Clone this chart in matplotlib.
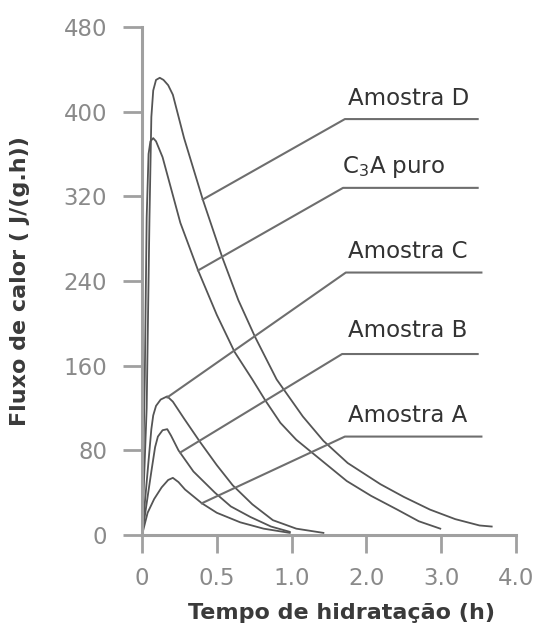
import numpy as np
import matplotlib.pyplot as plt

# eixo x: posicoes igualmente espacadas, rotulos como no grafico original
x_tick_pos = [0, 0.8, 1.6, 2.4, 3.2, 4.0]
x_tick_labels = ['0', '0.5', '1.0', '2.0', '3.0', '4.0']
y_ticks = [0, 80, 160, 240, 320, 400, 480]

# curvas (em coordenadas do eixo)
d_x = [0, 0.05, 0.08, 0.10, 0.12, 0.15, 0.19, 0.23, 0.28, 0.33, 0.45, 0.65, 0.86, 1.03, 1.21,
       1.44, 1.72, 1.94, 2.20, 2.55, 2.80, 3.08, 3.35, 3.61, 3.74]
d_y = [0, 120, 300, 395, 420, 430, 432, 430, 425, 416, 375, 317, 262, 222, 187,
       147, 112, 89, 68, 48, 36, 24, 15, 9, 8]

c3a_x = [0, 0.03, 0.05, 0.07, 0.09, 0.12, 0.15, 0.22, 0.41, 0.60, 0.80, 0.99, 1.18, 1.32,
         1.48, 1.65, 1.83, 2.19, 2.45, 2.73, 2.96, 3.19]
c3a_y = [0, 150, 300, 360, 372, 375, 372, 357, 295, 250, 208, 173, 147, 127,
         106, 90, 77, 51, 37, 24, 13, 6]

c_x = [0, 0.03, 0.07, 0.10, 0.12, 0.15, 0.20, 0.27, 0.33, 0.45, 0.62, 0.80, 0.97, 1.18, 1.40, 1.65, 1.94]
c_y = [0, 30, 70, 100, 113, 122, 128, 131, 126, 110, 88, 66, 47, 29, 14, 6, 2]

b_x = [0, 0.05, 0.10, 0.14, 0.17, 0.22, 0.27, 0.31, 0.39, 0.55, 0.78, 0.95, 1.16, 1.38, 1.58]
b_y = [0, 30, 60, 83, 93, 99, 100, 94, 80, 60, 40, 27, 17, 8, 3]

a_x = [0, 0.06, 0.13, 0.21, 0.28, 0.33, 0.39, 0.46, 0.64, 0.80, 1.05, 1.30, 1.58]
a_y = [0, 21, 34, 45, 52, 54, 50, 43, 30, 21, 12, 6, 2]

# rotulos e linhas de chamada: ponto na curva, cotovelo, fim, posicao do texto
labels = ['Amostra D', r'C$_{\mathregular{3}}$A puro', 'Amostra C', 'Amostra B', 'Amostra A']
lead_start = [(0.65, 317), (0.60, 250), (0.27, 130), (0.41, 78), (0.64, 30)]
lead_elbow = [(2.17, 393), (2.15, 328), (2.18, 248), (2.14, 171), (2.17, 93)]
lead_end_x = [3.59, 3.59, 3.63, 3.59, 3.63]
text_pos = [(2.20, 406), (2.14, 342), (2.20, 262), (2.20, 187), (2.20, 107)]

fig = plt.figure(figsize=(5.38, 6.28), dpi=100)
ax = fig.add_axes([142 / 538, 1 - 535 / 628, 374 / 538, 508 / 628])

curve_col = '#555555'
for xs, ys in [(d_x, d_y), (c3a_x, c3a_y), (c_x, c_y), (b_x, b_y), (a_x, a_y)]:
    ax.plot(xs, ys, color=curve_col, lw=1.3, solid_joinstyle='round')

for lab, s, e, xe, tp in zip(labels, lead_start, lead_elbow, lead_end_x, text_pos):
    ax.plot([s[0], e[0], xe], [s[1], e[1], e[1]], color='#6e6e6e', lw=1.5)
    ax.text(tp[0], tp[1], lab, fontsize=16.5, color='#333333', va='baseline', ha='left')

ax.set_xlim(0, 4.0)
ax.set_ylim(0, 480)
ax.set_xticks(x_tick_pos)
ax.set_xticklabels(x_tick_labels)
ax.set_yticks(y_ticks)

for side in ['top', 'right']:
    ax.spines[side].set_visible(False)
for side in ['left', 'bottom']:
    ax.spines[side].set_color('#a0a0a0')
    ax.spines[side].set_linewidth(2.2)

ax.tick_params(axis='y', direction='out', length=14, width=2, color='#a0a0a0',
               labelsize=16.5, labelcolor='#8a8a8a', pad=11)
ax.tick_params(axis='x', direction='out', length=13, width=2, color='#a0a0a0',
               labelsize=16.5, labelcolor='#8a8a8a', pad=10)

fig.text(20 / 538, 1 - 281 / 628, 'Fluxo de calor ( J/(g.h))', rotation=90,
         fontsize=16, fontweight='bold', color='#3a3a3a', ha='center', va='center')
fig.text(341 / 538, 1 - 613 / 628, 'Tempo de hidratação (h)',
         fontsize=16, fontweight='bold', color='#3a3a3a', ha='center', va='center')

fig.savefig('out.png', dpi=100)
